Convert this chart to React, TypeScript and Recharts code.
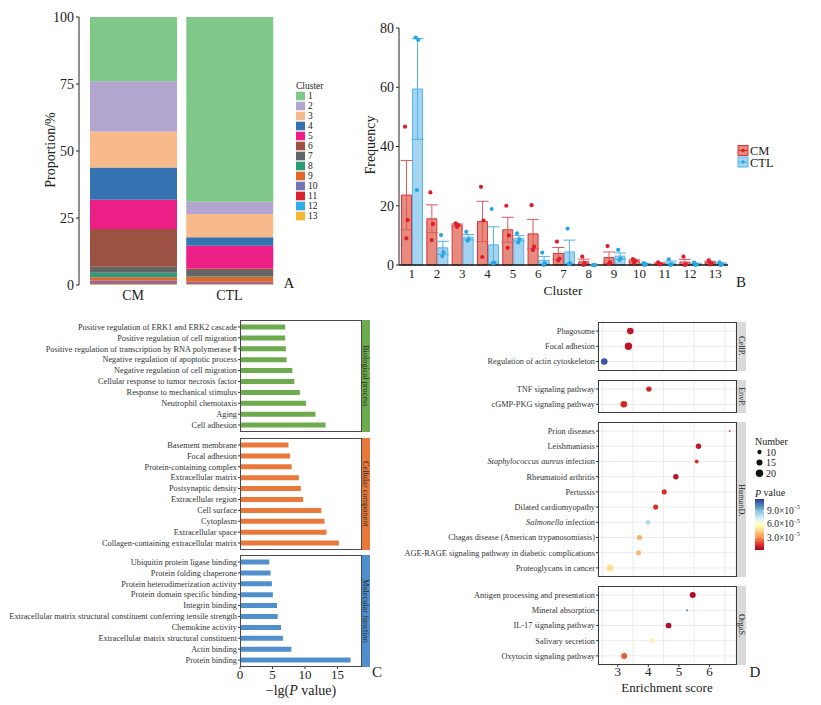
import React from 'react'
import {
  BarChart, Bar, ComposedChart, ScatterChart, Scatter, XAxis, YAxis, ZAxis, ErrorBar, Cell, CartesianGrid,
} from 'recharts'

const FONT = '"Liberation Serif", "Times New Roman", serif'
const INK = '#222'

// ---------- A: cluster proportions (%) per group ----------
const CLUSTERS = ['1', '2', '3', '4', '5', '6', '7', '8', '9', '10', '11', '12', '13']
const CLUSTER_COLORS = ['#7fc88a', '#b2a6d0', '#f8ba8a', '#3572b1', '#eb1f86', '#9c5142', '#646568', '#2c9b77', '#e0662b', '#7673b6', '#d8232f', '#2daee6', '#f2b833']
const GROUPS = ['CM', 'CTL']
const CM_PROP = [24.0, 18.7, 13.5, 12.0, 10.9, 14.05, 2.25, 1.7, 1.3, 0.9, 0.2, 0.2, 0.3]
const CTL_PROP = [68.9, 4.6, 8.7, 3.2, 8.4, 0.6, 2.2, 0.3, 1.9, 0.45, 0.25, 0.25, 0.25]

// ---------- B: cluster frequency (mean, SE, replicates) ----------
const CM_MEAN = [23.6, 15.6, 13.5, 14.7, 11.9, 10.5, 3.9, 1.1, 2.5, 1.4, 0.5, 1.0, 0.8]
const CM_SE = [11.7, 4.7, 0.35, 6.8, 4.2, 4.9, 2.0, 0.85, 1.9, 0.35, 0.22, 0.9, 0.42]
const CTL_MEAN = [59.4, 5.8, 9.4, 6.8, 9.0, 1.6, 4.4, 0, 3.0, 0.3, 0.7, 0.35, 0.4]
const CTL_SE = [17.0, 2.2, 0.9, 6.1, 0.9, 1.3, 4.0, 0, 1.05, 0.2, 0.6, 0.25, 0.3]
const CM_POINTS = [[46.7, 15.2, 9.0], [24.5, 13.8, 8.4], [14.1, 13.5, 12.9], [26.4, 15.0, 2.7], [20.0, 10.0, 5.8], [20.2, 6.2, 5.1], [7.9, 2.2, 1.5], [2.8, 0.6, 0], [6.4, 0.9, 0.3], [2.0, 1.5, 0.8], [0.9, 0.3, 0.2], [2.8, 0.2, 0], [1.6, 0.6, 0.2]]
const CTL_POINTS = [[76.8, 76.0, 25.3], [10.1, 4.3, 3.0], [11.2, 8.7, 8.2], [18.9, 0.8, 0.6], [10.7, 8.7, 7.6], [4.2, 0.6, 0], [12.3, 0.6, 0.3], [0, 0, 0], [5.1, 2.2, 1.7], [0.6, 0.3, 0], [1.9, 0.2, 0], [0.8, 0.2, 0], [0.9, 0.2, 0]]
const JITTER = [-0.05, 0.05, 0]

// ---------- C: GO enrichment, -lg(P) ----------
const BP_TERMS = ['Positive regulation of ERK1 and ERK2 cascade', 'Positive regulation of cell migration', 'Positive regulation of transcription by RNA polymerase Ⅱ', 'Negative regulation of apoptotic process', 'Negative regulation of cell migration', 'Cellular response to tumor necrosis factor', 'Response to mechanical stimulus', 'Neutrophil chemotaxis', 'Aging', 'Cell adhesion']
const BP_VALUES = [6.95, 6.95, 7.05, 7.15, 8.05, 8.35, 9.2, 10.15, 11.6, 13.15]
const CC_TERMS = ['Basement membrane', 'Focal adhesion', 'Protein-containing complex', 'Extracellular matrix', 'Postsynaptic density', 'Extracellular region', 'Cell surface', 'Cytoplasm', 'Extracellular space', 'Collagen-containing extracellular matrix']
const CC_VALUES = [7.45, 7.7, 7.95, 9.05, 9.35, 9.7, 12.5, 13.0, 13.3, 15.2]
const MF_TERMS = ['Ubiquitin protein ligase binding', 'Protein folding chaperone', 'Protein heterodimerization activity', 'Protein domain specific binding', 'Integrin binding', 'Extracellular matrix structural constituent conferring tensile strength', 'Chemokine activity', 'Extracellular matrix structural constituent', 'Actin binding', 'Protein binding']
const MF_VALUES = [4.5, 4.7, 4.9, 5.05, 5.7, 5.8, 6.3, 6.6, 7.9, 17.0]
const GO_TICKS = [0, 5, 10, 15]

// ---------- D: KEGG enrichment ----------
const CELLP_TERMS = ['Phagosome', 'Focal adhesion', 'Regulation of actin cytoskeleton']
const CELLP_SCORE = [3.41, 3.35, 2.56]
const CELLP_COUNT = [17, 20, 17]
const CELLP_P = [7.8e-6, 7e-6, 1.11e-4]
const ENVP_TERMS = ['TNF signaling pathway', 'cGMP-PKG signaling pathway']
const ENVP_SCORE = [4.02, 3.2]
const ENVP_COUNT = [13, 17]
const ENVP_P = [1.1e-5, 1.2e-5]
const HUMAND_TERMS = ['Prion diseases', 'Leishmaniasis', 'Staphylococcus aureus infection', 'Rheumatoid arthritis', 'Pertussis', 'Dilated cardiomyopathy', 'Salmonella infection', 'Chagas disease (American trypanosomiasis)', 'AGE-RAGE signaling pathway in diabetic complications', 'Proteoglycans in cancer']
const HUMAND_SCORE = [6.66, 5.64, 5.58, 4.9, 4.52, 4.24, 3.99, 3.71, 3.68, 2.74]
const HUMAND_COUNT = [6, 13, 9, 13, 12, 12, 11, 12, 12, 17]
const HUMAND_P = [1.9e-5, 8e-6, 1.35e-5, 6.6e-6, 1.35e-5, 1.3e-5, 8.25e-5, 3.65e-5, 3.9e-5, 4.8e-5]
const ORGAS_TERMS = ['Antigen processing and presentation', 'Mineral absorption', 'IL-17 signaling pathway', 'Salivary secretion', 'Oxytocin signaling pathway']
const ORGAS_SCORE = [5.45, 5.27, 4.66, 4.14, 3.21]
const ORGAS_COUNT = [15, 6, 14, 11, 15]
const ORGAS_P = [5e-6, 1.05e-4, 5.5e-6, 5.4e-5, 2.15e-5]
const ES_TICKS = [3, 4, 5, 6]
const ES_GRID = [2.5, 3, 3.5, 4, 4.5, 5, 5.5, 6, 6.5]
const ES_DOMAIN: [number, number] = [2.355, 6.865]
const COUNT_LEGEND = [10, 15, 20]
const P_LEGEND = [9e-5, 6e-5, 3e-5]

const RDYLBU = ['#a50026', '#d73027', '#f46d43', '#fdae61', '#fee090', '#ffffbf', '#e0f3f8', '#abd9e9', '#74add1', '#4575b4', '#313695']
const P_MIN = 2e-6
const P_MAX = 1.17e-4

function hexToRgb(h: string) {
  return [parseInt(h.slice(1, 3), 16), parseInt(h.slice(3, 5), 16), parseInt(h.slice(5, 7), 16)]
}
function pColor(p: number) {
  const t = Math.min(1, Math.max(0, (p - P_MIN) / (P_MAX - P_MIN))) * (RDYLBU.length - 1)
  const i = Math.min(Math.floor(t), RDYLBU.length - 2)
  const f = t - i
  const a = hexToRgb(RDYLBU[i])
  const b = hexToRgb(RDYLBU[i + 1])
  const c = a.map((v, k) => Math.round(v + (b[k] - v) * f))
  return `rgb(${c[0]},${c[1]},${c[2]})`
}
// size legend uses the same area mapping as the ZAxis below
const Z_DOMAIN: [number, number] = [6, 20]
const Z_RANGE: [number, number] = [3, 43]
const legendRadius = (n: number) =>
  Math.sqrt((Z_RANGE[0] + ((n - Z_DOMAIN[0]) / (Z_DOMAIN[1] - Z_DOMAIN[0])) * (Z_RANGE[1] - Z_RANGE[0])) / Math.PI)

const abs = (left: number, top: number): React.CSSProperties => ({ position: 'absolute', left, top })
const LABEL_SIZE = 8.3

function ProportionPanel() {
  const rows = GROUPS.map((g, gi) => {
    const src = gi === 0 ? CM_PROP : CTL_PROP
    const row: Record<string, any> = { g }
    CLUSTERS.forEach((c, i) => { row['c' + c] = src[i] })
    return row
  })
  return (
    <div style={abs(0, 0)}>
      <BarChart width={290} height={310} data={rows} margin={{ top: 17, right: 6, bottom: 0, left: 0 }} barSize={87}>
        <XAxis dataKey="g" padding={{ left: 6, right: 6.5 }} axisLine={false} tickLine={false} tickSize={4} tickMargin={1} height={25}
          tick={{ fontSize: 14, fill: INK, fontFamily: FONT }} />
        <YAxis width={79} domain={[0, 100]} ticks={[0, 25, 50, 75, 100]} axisLine={{ stroke: INK }} tickLine={{ stroke: INK }} tickSize={3} tickMargin={2}
          tick={{ fontSize: 14, fill: INK, fontFamily: FONT }} />
        {[...CLUSTERS].reverse().map((c) => (
          <Bar key={c} dataKey={'c' + c} stackId="p" fill={CLUSTER_COLORS[CLUSTERS.indexOf(c)]} isAnimationActive={false} />
        ))}
      </BarChart>
    </div>
  )
}

function FrequencyPanel() {
  const rows = CLUSTERS.map((c, i) => ({ c, cm: CM_MEAN[i], cmSe: CM_SE[i], ctl: CTL_MEAN[i], ctlSe: CTL_SE[i] }))
  const cmPts = CM_POINTS.flatMap((vals, i) => vals.map((v, j) => ({ x: i + 1 - 0.21 + JITTER[j], y: v })))
  const ctlPts = CTL_POINTS.flatMap((vals, i) => vals.map((v, j) => ({ x: i + 1 + 0.21 + JITTER[j], y: v })))
  return (
    <div style={abs(340, 0)}>
      <ComposedChart width={400} height={310} data={rows} margin={{ top: 28, right: 12, bottom: 0, left: 0 }} barCategoryGap="10%" barGap={1}>
        <XAxis dataKey="c" height={45} interval={0} axisLine={{ stroke: '#1a1a1a', strokeWidth: 1.5 }} tickLine={false} tickSize={3} tickMargin={1}
          tick={{ fontSize: 13, fill: INK, fontFamily: FONT }} />
        <XAxis xAxisId="n" type="number" dataKey="x" domain={[0.5, 13.5]} hide allowDataOverflow />
        <YAxis width={59} domain={[0, 80]} ticks={[0, 20, 40, 60, 80]} axisLine={{ stroke: INK }} tickLine={{ stroke: INK }} tickSize={3} tickMargin={2}
          tick={{ fontSize: 14, fill: INK, fontFamily: FONT }} />
        <Bar dataKey="cm" fill="#e68b7e" stroke="#d8333c" strokeWidth={1} isAnimationActive={false}>
          <ErrorBar dataKey="cmSe" width={6} stroke="#e0585e" strokeWidth={1} />
        </Bar>
        <Bar dataKey="ctl" fill="#a5d4f0" stroke="#55b6e8" strokeWidth={1} isAnimationActive={false}>
          <ErrorBar dataKey="ctlSe" width={6} stroke="#4fb3e6" strokeWidth={1} />
        </Bar>
        <Scatter xAxisId="n" data={cmPts} dataKey="y" isAnimationActive={false}
          shape={(p: any) => <circle cx={p.cx} cy={p.cy} r={2.1} fill="#e01b2c" />} />
        <Scatter xAxisId="n" data={ctlPts} dataKey="y" isAnimationActive={false}
          shape={(p: any) => <circle cx={p.cx} cy={p.cy} r={2.1} fill="#27a7e1" />} />
      </ComposedChart>
    </div>
  )
}

const C_ROW = 10.9

function PlainTick(props: any) {
  const { x, y, payload } = props
  return (
    <text x={x} y={y} dy="0.34em" textAnchor="end" fontSize={LABEL_SIZE} fill="#333" fontFamily={FONT}>{payload.value}</text>
  )
}

function GoFacet({ terms, values, color, top, strip, showAxis }: { terms: string[]; values: number[]; color: string; top: number; strip: string; showAxis?: boolean }) {
  const data = terms.map((t, i) => ({ term: t, v: values[i] }))
  const h = terms.length * C_ROW + 3
  const axisH = showAxis ? 22 : 0
  return (
    <>
      <div style={abs(0, top)}>
        <BarChart layout="vertical" width={361} height={h + axisH} data={data} margin={{ top: 0, right: 0, bottom: 0, left: 0 }} barSize={5}>
          <XAxis type="number" domain={[0, 18.6]} ticks={GO_TICKS} allowDataOverflow hide={!showAxis} height={axisH} axisLine={false}
            tickLine={{ stroke: '#333' }} tickSize={2} tickMargin={0.5} tick={{ fontSize: 13, fill: INK, fontFamily: FONT }} />
          <YAxis type="category" dataKey="term" width={240} interval={0} axisLine={false} tickLine={{ stroke: '#333' }} tickSize={2} tickMargin={1}
            padding={{ top: 1.5, bottom: 1.5 }} tick={<PlainTick />} />
          <Bar dataKey="v" fill={color} isAnimationActive={false} />
        </BarChart>
      </div>
      <div style={{ ...abs(240, top), width: 121.5, height: h, border: '1px solid #4a4a4a', boxSizing: 'border-box' }} />
      <div style={{ ...abs(361.5, top), width: 8.5, height: h, background: color, display: 'flex', alignItems: 'center', justifyContent: 'center' }}>
        <span style={{ writingMode: 'vertical-rl', fontSize: LABEL_SIZE, color: '#2a2a2a', fontFamily: FONT, whiteSpace: 'nowrap' }}>{strip}</span>
      </div>
    </>
  )
}

const ITALIC_PART: Record<string, string> = {
  'Staphylococcus aureus infection': 'Staphylococcus aureus',
  'Salmonella infection': 'Salmonella',
}

function KeggTick(props: any) {
  const { x, y, payload } = props
  const label = String(payload.value)
  const it = ITALIC_PART[label]
  return (
    <text x={x} y={y} dy="0.34em" textAnchor="end" fontSize={LABEL_SIZE} fill="#333" fontFamily={FONT}>
      {it ? (<><tspan fontStyle="italic">{it}</tspan><tspan>{label.slice(it.length)}</tspan></>) : label}
    </text>
  )
}

const D_ROW = 15.2

function KeggFacet({ terms, score, count, pv, top, strip, showAxis }: { terms: string[]; score: number[]; count: number[]; pv: number[]; top: number; strip: string; showAxis?: boolean }) {
  const data = terms.map((t, i) => ({ term: t, es: score[i], n: count[i], p: pv[i] }))
  const h = terms.length * D_ROW + 3
  const axisH = showAxis ? 22 : 0
  return (
    <>
      <div style={abs(380, top)}>
        <ScatterChart width={356} height={h + axisH} margin={{ top: 0, right: 0, bottom: 0, left: 0 }}>
          <CartesianGrid xAxisId="g" stroke="#e6e6e6" strokeWidth={0.8} />
          <XAxis xAxisId="g" type="number" dataKey="es" domain={ES_DOMAIN} ticks={ES_GRID} hide allowDataOverflow />
          <XAxis type="number" dataKey="es" domain={ES_DOMAIN} ticks={ES_TICKS} allowDataOverflow hide={!showAxis} height={axisH} axisLine={false}
            tickLine={{ stroke: '#333' }} tickSize={2} tickMargin={0} tick={{ fontSize: 13, fill: INK, fontFamily: FONT }} />
          <YAxis type="category" dataKey="term" width={218} reversed interval={0} axisLine={false} tickLine={{ stroke: '#333' }} tickSize={2} tickMargin={1}
            padding={{ top: 1.5, bottom: 1.5 }} tick={<KeggTick />} />
          <ZAxis dataKey="n" domain={Z_DOMAIN} range={Z_RANGE} />
          <Scatter data={data} isAnimationActive={false}>
            {data.map((d, i) => <Cell key={i} fill={pColor(d.p)} />)}
          </Scatter>
        </ScatterChart>
      </div>
      <div style={{ ...abs(598, top), width: 138.5, height: h, border: '1px solid #3a3a3a', boxSizing: 'border-box' }} />
      <div style={{ ...abs(737, top), width: 8.5, height: h, background: '#d9d9d9', display: 'flex', alignItems: 'center', justifyContent: 'center' }}>
        <span style={{ writingMode: 'vertical-rl', fontSize: LABEL_SIZE, color: '#1a1a1a', fontFamily: FONT, whiteSpace: 'nowrap' }}>{strip}</span>
      </div>
    </>
  )
}

function Overlay() {
  const pY = (p: number) => 550 - ((p - P_MIN) / (P_MAX - P_MIN)) * 51
  return (
    <svg width={821} height={705} style={{ ...abs(0, 0), pointerEvents: 'none' }} fontFamily={FONT}>
      <defs>
        <linearGradient id="pgrad" x1="0" y1="1" x2="0" y2="0">
          {RDYLBU.map((c, i) => <stop key={i} offset={i / (RDYLBU.length - 1)} stopColor={c} />)}
        </linearGradient>
      </defs>
      {/* A */}
      <text x={50} y={150} fontSize={14} fill={INK} textAnchor="middle" dominantBaseline="central" transform="rotate(-90 50 150)">Proportion/%</text>
      <text x={296} y={86} fontSize={9.5} fill={INK} dominantBaseline="central">Cluster</text>
      {CLUSTERS.map((c, i) => (
        <g key={c}>
          <rect x={296} y={96 + i * 10 - 4.3} width={9} height={8.6} fill={CLUSTER_COLORS[i]} />
          <text x={308} y={96 + i * 10} fontSize={9.5} fill={INK} dominantBaseline="central">{c}</text>
        </g>
      ))}
      <text x={289} y={283} fontSize={15} fill={INK} textAnchor="middle" dominantBaseline="central">A</text>
      {/* B */}
      <text x={370} y={145} fontSize={14} fill={INK} textAnchor="middle" dominantBaseline="central" transform="rotate(-90 370 145)">Frequency</text>
      <text x={563} y={290.5} fontSize={13.5} fill={INK} textAnchor="middle" dominantBaseline="central">Cluster</text>
      <text x={741} y={282} fontSize={15} fill={INK} textAnchor="middle" dominantBaseline="central">B</text>
      <rect x={738} y={145.5} width={10} height={10} fill="#e68b7e" stroke="#d8333c" />
      <line x1={738} x2={748} y1={150.5} y2={150.5} stroke="#d8333c" />
      <circle cx={743} cy={150.5} r={1.8} fill="#e01b2c" />
      <rect x={738} y={157} width={10} height={10} fill="#a5d4f0" stroke="#55b6e8" />
      <line x1={738} x2={748} y1={162} y2={162} stroke="#4fb3e6" />
      <circle cx={743} cy={162} r={1.8} fill="#27a7e1" />
      <text x={750} y={150.5} fontSize={12.5} fill={INK} dominantBaseline="central">CM</text>
      <text x={750} y={163} fontSize={12.5} fill={INK} dominantBaseline="central">CTL</text>
      {/* C */}
      <text x={301} y={690} fontSize={14} fill={INK} textAnchor="middle" dominantBaseline="central">
        −lg(<tspan fontStyle="italic">P</tspan> value)
      </text>
      <text x={377} y={672} fontSize={15} fill={INK} textAnchor="middle" dominantBaseline="central">C</text>
      {/* D */}
      <text x={667} y={687} fontSize={13} fill={INK} textAnchor="middle" dominantBaseline="central">Enrichment score</text>
      <text x={755} y={672} fontSize={15} fill={INK} textAnchor="middle" dominantBaseline="central">D</text>
      <text x={755} y={441} fontSize={10} fill={INK} dominantBaseline="central">Number</text>
      {COUNT_LEGEND.map((n, i) => (
        <g key={n}>
          <circle cx={759.5} cy={452 + i * 10.6} r={legendRadius(n)} fill="#111" />
          <text x={766} y={452 + i * 10.6} fontSize={10} fill={INK} dominantBaseline="central">{n}</text>
        </g>
      ))}
      <text x={755} y={492.5} fontSize={10} fill={INK} dominantBaseline="central">
        <tspan fontStyle="italic">P</tspan> value
      </text>
      <rect x={755} y={499} width={9} height={51} fill="url(#pgrad)" />
      {P_LEGEND.map((p) => (
        <g key={p}>
          <line x1={755} x2={757} y1={pY(p)} y2={pY(p)} stroke="#fff" strokeWidth={0.6} />
          <line x1={762} x2={764} y1={pY(p)} y2={pY(p)} stroke="#fff" strokeWidth={0.6} />
          <text x={767} y={pY(p)} fontSize={9.5} fill={INK} dominantBaseline="central">
            {(p * 1e5).toFixed(1)}×10<tspan dy={-3.5} fontSize={6}>−5</tspan>
          </text>
        </g>
      ))}
    </svg>
  )
}

export default function App() {
  return (
    <div style={{ position: 'absolute', left: 0, top: 0, width: 821, height: 705, background: '#fff', overflow: 'hidden', fontFamily: FONT }}>
      <ProportionPanel />
      <FrequencyPanel />
      <GoFacet terms={BP_TERMS} values={BP_VALUES} color="#6eab4e" top={320} strip="Biological process" />
      <GoFacet terms={CC_TERMS} values={CC_VALUES} color="#e8793b" top={437.5} strip="Cellular component" />
      <GoFacet terms={MF_TERMS} values={MF_VALUES} color="#4f8fcc" top={554.5} strip="Molecular function" showAxis />
      <KeggFacet terms={CELLP_TERMS} score={CELLP_SCORE} count={CELLP_COUNT} pv={CELLP_P} top={322} strip="CellP." />
      <KeggFacet terms={ENVP_TERMS} score={ENVP_SCORE} count={ENVP_COUNT} pv={ENVP_P} top={380} strip="EnvP." />
      <KeggFacet terms={HUMAND_TERMS} score={HUMAND_SCORE} count={HUMAND_COUNT} pv={HUMAND_P} top={422.3} strip="HumanD." />
      <KeggFacet terms={ORGAS_TERMS} score={ORGAS_SCORE} count={ORGAS_COUNT} pv={ORGAS_P} top={586} strip="OrgaS." showAxis />
      <Overlay />
    </div>
  )
}
